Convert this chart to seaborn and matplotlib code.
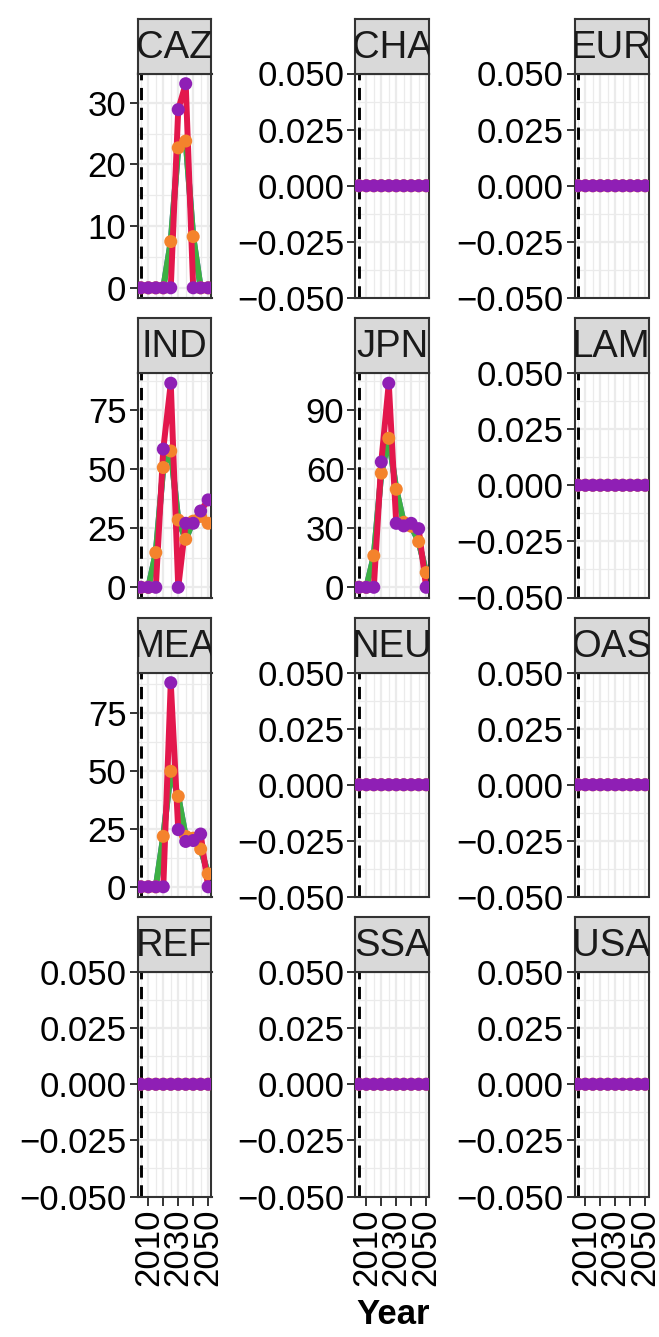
import numpy as np
import pandas as pd
import matplotlib
matplotlib.use('Agg')
import matplotlib.pyplot as plt
import seaborn as sns
from matplotlib.ticker import FixedLocator

# ---------------- data ----------------
years = [2005, 2010, 2015, 2020, 2025, 2030, 2035, 2040, 2045, 2050]
regions = ['CAZ', 'CHA', 'EUR', 'IND', 'JPN', 'LAM',
           'MEA', 'NEU', 'OAS', 'REF', 'SSA', 'USA']

# series A: red line + purple points ; series B: green/blue lines + orange points
caz_a = [0, 0, 0, 0, 0, 28.9, 33.1, 0, 0, 0]
caz_b = [0, 0, 0, 0, 7.5, 22.7, 23.8, 8.3, 0, 0]
ind_a = [0, 0, 0, 58.5, 86.4, 0, 27.1, 27.1, 32.3, 37.0]
ind_b = [0, 0, 14.7, 50.7, 57.7, 28.5, 20.3, 28.0, 30.0, 27.1]
jpn_a = [0, 0, 0, 63.7, 103.7, 32.5, 31.2, 32.5, 29.8, 0]
jpn_b = [0, 0, 16.0, 58.0, 75.7, 49.8, 33.0, 31.0, 23.2, 7.5]
mea_a = [0, 0, 0, 0, 88.2, 24.7, 19.6, 20.0, 22.8, 0]
mea_b = [0, 0, 0, 21.8, 49.9, 39.1, 21.8, 21.0, 16.3, 5.6]
flat = [0, 0, 0, 0, 0, 0, 0, 0, 0, 0]

series_a = {'CAZ': caz_a, 'IND': ind_a, 'JPN': jpn_a, 'MEA': mea_a}
series_b = {'CAZ': caz_b, 'IND': ind_b, 'JPN': jpn_b, 'MEA': mea_b}

y_breaks = {'CAZ': [0, 10, 20, 30], 'IND': [0, 25, 50, 75],
            'JPN': [0, 30, 60, 90], 'MEA': [0, 25, 50, 75]}
flat_breaks = [-0.05, -0.025, 0.0, 0.025, 0.05]
flat_labels = ['\u22120.050', '\u22120.025', '0.000', '0.025', '0.050']
x_breaks = [2010, 2020, 2030, 2040, 2050]
x_labels = ['2010', '', '2030', '', '2050']
ref_year = 2005

rows = []
for r in regions:
    a = series_a.get(r, flat)
    b = series_b.get(r, flat)
    for yr, v in zip(years, b):
        rows.append((r, yr, v, 'B'))
    for yr, v in zip(years, b):
        rows.append((r, yr, v, 'C'))
    for yr, v in zip(years, a):
        rows.append((r, yr, v, 'A'))
df = pd.DataFrame(rows, columns=['Region', 'Year', 'Value', 'Series'])

# ---------------- style ----------------
sns.set_theme(style='white')
plt.rcParams['font.family'] = ['Liberation Sans', 'DejaVu Sans']

RED = '#E3174C'
GREEN = '#3DB043'
BLUE = '#3E5FC8'
PURPLE = '#8F1FB5'
ORANGE = '#F4832C'
GRID = '#EBEBEB'
DARK = '#333333'
FS = 25

W, H = 659, 1337
fig = plt.figure(figsize=(W / 100, H / 100), dpi=100)

col_left = [137.5, 355.5, 574.5]
pw = 74.0
strip_top0 = 18.5
row_pitch = 299.5
strip_h = 55.0
ph = 224.5

for i, reg in enumerate(regions):
    r, c = divmod(i, 3)
    st = strip_top0 + r * row_pitch
    pt = st + strip_h
    pb = pt + ph
    left = col_left[c]
    ax = fig.add_axes([left / W, 1 - pb / H, pw / W, ph / H])
    sax = fig.add_axes([left / W, 1 - pt / H, pw / W, strip_h / H])

    sub = df[df['Region'] == reg]
    lines = sub[sub['Series'].isin(['C', 'B', 'A'])]
    sns.lineplot(data=lines, x='Year', y='Value', hue='Series',
                 hue_order=['C', 'B', 'A'],
                 palette={'C': BLUE, 'B': GREEN, 'A': RED},
                 linewidth=4.3, legend=False, estimator=None, sort=False,
                 ax=ax, zorder=2)
    pts = pd.concat([sub[sub['Series'] == 'B'], sub[sub['Series'] == 'A']])
    sns.scatterplot(data=pts, x='Year', y='Value', hue='Series',
                    hue_order=['B', 'A'],
                    palette={'B': ORANGE, 'A': PURPLE},
                    s=88, linewidth=0, legend=False, ax=ax, zorder=3)
    ax.axvline(ref_year, color='black', lw=2.1, ls=(0, (4.2, 2.6)), zorder=1.5)

    # y scale
    vals = sub['Value'].values
    lo, hi = vals.min(), vals.max()
    if hi - lo == 0:
        ax.set_ylim(-0.05, 0.05)
        yb = flat_breaks
        ylab = flat_labels
        ymin = [-0.0375, -0.0125, 0.0125, 0.0375]
    else:
        span = hi - lo
        ax.set_ylim(lo - 0.05 * span, hi + 0.05 * span)
        yb = y_breaks[reg]
        ylab = [str(v) for v in yb]
        step = yb[1] - yb[0]
        cand = [yb[0] - step / 2] + [v + step / 2 for v in yb]
        y0, y1 = ax.get_ylim()
        ymin = [v for v in cand if y0 <= v <= y1]
    ax.yaxis.set_major_locator(FixedLocator(yb))
    ax.set_yticklabels(ylab)
    ax.yaxis.set_minor_locator(FixedLocator(ymin))

    ax.set_xlim(2002.75, 2052.25)
    ax.xaxis.set_major_locator(FixedLocator(x_breaks))
    ax.xaxis.set_minor_locator(FixedLocator([2005, 2015, 2025, 2035, 2045]))
    if r == 3:
        ax.set_xticklabels(x_labels, rotation=90)
        ax.tick_params(axis='x', which='major', length=6.5, width=1.4,
                       color=DARK, labelsize=FS, pad=2, labelcolor='black')
    else:
        ax.set_xticklabels([])
        ax.tick_params(axis='x', which='major', length=0)
    ax.tick_params(axis='y', which='major', length=6.0, width=1.4,
                   color=DARK, labelsize=FS, pad=2, labelcolor='black')
    ax.tick_params(which='minor', length=0)
    ax.tick_params(left=True, bottom=(r == 3))

    ax.grid(True, which='major', color=GRID, lw=1.6)
    ax.grid(True, which='minor', color=GRID, lw=0.9)
    ax.set_axisbelow(True)
    ax.set_facecolor('white')
    for sp in ax.spines.values():
        sp.set_color(DARK)
        sp.set_linewidth(1.5)
    ax.set_xlabel('')
    ax.set_ylabel('')

    # strip
    sax.set_facecolor('#D9D9D9')
    sax.set_xticks([])
    sax.set_yticks([])
    for sp in sax.spines.values():
        sp.set_color(DARK)
        sp.set_linewidth(1.5)
    sax.text(0.5, 0.47, reg, ha='center', va='center', fontsize=27.5,
             color='#1A1A1A', clip_on=True, transform=sax.transAxes)

fig.text(393 / W, 1 - 1315 / H, 'Year', ha='center', va='center',
         fontsize=FS, fontweight='bold', color='black')

fig.savefig('out.png', dpi=100)
